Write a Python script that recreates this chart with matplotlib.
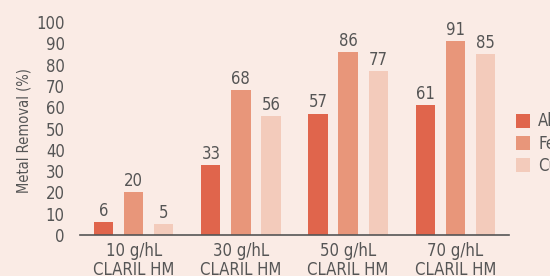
import matplotlib.pyplot as plt
import numpy as np

doses = ['10 g/hL\nCLARIL HM', '30 g/hL\nCLARIL HM', '50 g/hL\nCLARIL HM', '70 g/hL\nCLARIL HM']
metals = ['Al', 'Fe', 'Cu']
al = [6, 33, 57, 61]
fe = [20, 68, 86, 91]
cu = [5, 56, 77, 85]

colors = ['#e0654c', '#e8967a', '#f3cbbb']
bg = '#faebe5'
txt = '#555555'

plt.rcParams['font.family'] = ['DejaVu Sans']
plt.rcParams['font.stretch'] = 'condensed'

fig = plt.figure(figsize=(5.5, 2.76), dpi=100, facecolor=bg)
ax = fig.add_axes([80/550, 1 - 235/276, 429/550, 213/276])
ax.set_facecolor(bg)

x = np.arange(len(doses))
w = 0.18
off = 0.28
for i, (vals, c) in enumerate(zip([al, fe, cu], colors)):
    bars = ax.bar(x + (i - 1) * off, vals, w, color=c, label=metals[i], zorder=2)
    for b, v in zip(bars, vals):
        ax.text(b.get_x() + b.get_width() / 2, v + 1, str(v), ha='center', va='bottom',
                fontsize=12, color=txt, fontstretch='condensed')

ax.set_xlim(-0.5, 3.5)
ax.set_ylim(0, 100)
ax.set_yticks(range(0, 101, 10))
ax.set_xticks(x)
ax.set_xticklabels(doses, linespacing=1.1)
ax.tick_params(length=0, labelsize=12, colors=txt)
ax.tick_params(axis='y', pad=11)
ax.tick_params(axis='x', pad=5)
for s in ['top', 'right', 'left']:
    ax.spines[s].set_visible(False)
ax.spines['bottom'].set_color('#555555')
ax.spines['bottom'].set_linewidth(1.2)
ax.set_ylabel('Metal Removal (%)', fontsize=10.5, color=txt)
ax.yaxis.set_label_coords(-0.112, 0.49)

ax.legend(loc='upper left', bbox_to_anchor=(0.99, 0.63), frameon=False, fontsize=12,
          labelcolor=txt, handlelength=0.8, handleheight=0.9, handletextpad=0.5,
          labelspacing=0.25, borderaxespad=0.3)

fig.savefig('out.png', dpi=100, facecolor=bg)
